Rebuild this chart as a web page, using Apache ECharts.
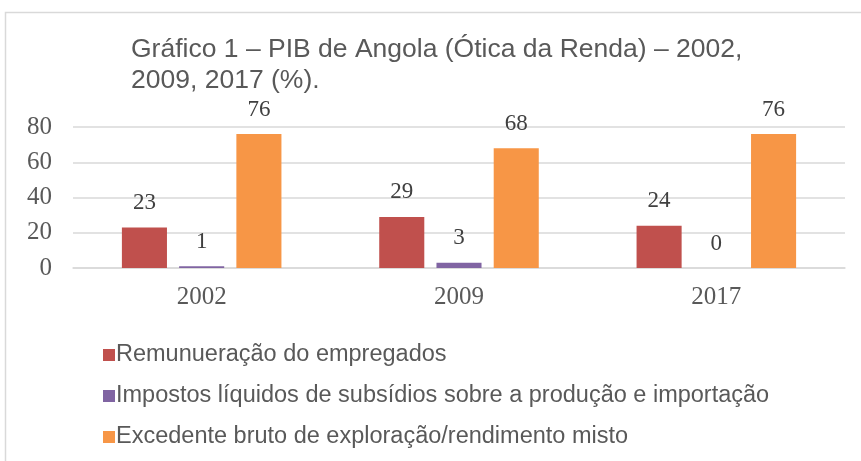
<!DOCTYPE html>
<html><head><meta charset="utf-8">
<script src="https://cdn.jsdelivr.net/npm/echarts@6/dist/echarts.min.js"></script>
<style>html,body{margin:0;padding:0;background:#fff}#c{width:861px;height:461px}</style>
</head><body><div id="c"></div>
<script>
const categories = ['2002', '2009', '2017'];
const remuneracao = [23, 29, 24];
const impostos = [1, 3, 0];
const excedente = [76, 68, 76];
const seriesNames = ['Remunueração do empregados', 'Impostos líquidos de subsídios sobre a produção e importação', 'Excedente bruto de exploração/rendimento misto'];
const yTicks = [0, 20, 40, 60, 80];

const chart = echarts.init(document.getElementById('c'));
const labelStyle = {show: true, position: 'top', distance: 13, fontFamily: 'Liberation Serif', fontSize: 23, color: '#404040'};
chart.setOption({
  animation: false,
  title: {
    text: 'Gráfico 1 – PIB de Angola (Ótica da Renda) – 2002,\n2009, 2017 (%).',
    left: 131, top: 34, padding: 0,
    textStyle: {fontFamily: 'Liberation Sans', fontSize: 26.5, fontWeight: 'normal', color: '#595959', lineHeight: 31}
  },
  graphic: [{type: 'rect', shape: {x: 5.5, y: 12.5, width: 870, height: 470}, style: {fill: 'none', stroke: '#d9d9d9', lineWidth: 1.5}, silent: true}],
  legend: {
    orient: 'vertical', left: 98, top: 338, itemGap: 17, itemWidth: 12, itemHeight: 12,
    icon: 'rect',
    textStyle: {fontFamily: 'Liberation Sans', fontSize: 23.5, color: '#595959', padding: [0,0,0,-4]},
    data: seriesNames
  },
  grid: {left: 73, right: 16, top: 127, height: 141, containLabel: false},
  xAxis: {
    type: 'category', data: categories,
    axisLine: {lineStyle: {color: '#d9d9d9', width: 1.5}}, axisTick: {show: false},
    axisLabel: {fontFamily: 'Liberation Serif', fontSize: 25, color: '#595959', margin: 17}
  },
  yAxis: {
    type: 'value', min: yTicks[0], max: yTicks[yTicks.length-1], interval: 20,
    axisLine: {show: false}, axisTick: {show: false},
    splitLine: {lineStyle: {color: '#d9d9d9', width: 1.5}},
    axisLabel: {fontFamily: 'Liberation Serif', fontSize: 25, color: '#595959', margin: 21}
  },
  series: [
    {name: seriesNames[0], type: 'bar', data: remuneracao, itemStyle: {color: '#c0504d'}, label: labelStyle, barGap: '27%', barCategoryGap: '38%'},
    {name: seriesNames[1], type: 'bar', data: impostos, itemStyle: {color: '#8064a2'}, label: labelStyle},
    {name: seriesNames[2], type: 'bar', data: excedente, itemStyle: {color: '#f79646'}, label: labelStyle}
  ]
});
</script></body></html>
